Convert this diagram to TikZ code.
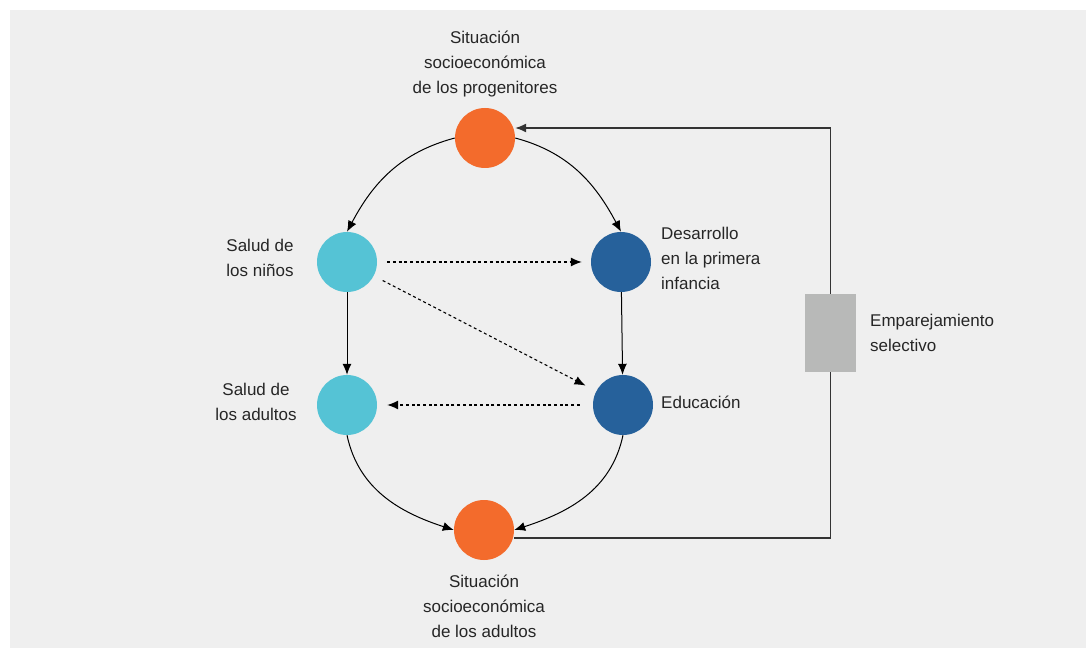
\documentclass[tikz,border=0pt]{standalone}
\usepackage{fontspec}
\setmainfont{Liberation Sans}
\usetikzlibrary{positioning,arrows.meta}
\definecolor{bggray}{HTML}{EFEFEF}
\definecolor{sesorange}{HTML}{F36B2C}
\definecolor{healthcyan}{HTML}{55C3D5}
\definecolor{edublue}{HTML}{26619B}
\definecolor{boxgray}{HTML}{B8B9B8}
\definecolor{linegray}{HTML}{333333}

\begin{document}
\begin{tikzpicture}[
  x=1pt,y=1pt,
  dot/.style={circle,minimum size=60pt,inner sep=0pt},
  lbl/.style={align=center,inner sep=0pt,font=\fontsize{17}{25}\selectfont,text=black!85},
  lbll/.style={lbl,align=left,anchor=west},
  arr/.style={-{Latex[length=11pt,width=9pt]},line width=1pt,draw=black},
  dotarr/.style={arr,line width=1.1pt,dash pattern=on 3pt off 2.7pt}
]
\useasboundingbox (0,0) rectangle (1086,648);
\fill[bggray] (10,0) rectangle (1086,638);

\node[dot,fill=sesorange] (top) at (485,510) {};
\node[dot,fill=healthcyan] (ninos) at (347,386) {};
\node[dot,fill=edublue] (desarrollo) at (621,386) {};
\node[dot,fill=healthcyan] (adultos) at (347,243) {};
\node[dot,fill=edublue] (educ) at (623,243) {};
\node[dot,fill=sesorange] (bottom) at (484,118) {};
\node[fill=boxgray,minimum width=51pt,minimum height=78pt,inner sep=0pt] (emp) at (830.5,315) {};

\node[lbl] (toplbl) at (485,584) {Situación\\socioeconómica\\de los progenitores};
\node[lbl] (ninoslbl) at (260,390.5) {Salud de\\los niños};
\node[lbll] (desarrollolbl) at (661,390) {Desarrollo\\en la primera\\infancia};
\node[lbl] (adultoslbl) at (256,246) {Salud de\\los adultos};
\node[lbll] (educlbl) at (661,246) {Educación};
\node[lbll] (emplbl) at (870,315.5) {Emparejamiento\\selectivo};
\node[lbl] (bottomlbl) at (484,42) {Situación\\socioeconómica\\de los adultos};

% curved links
\draw[arr] (top.west) to[out=195,in=62] (ninos.north);
\draw[arr] (top.east) to[out=-15,in=118] (desarrollo.north);
\draw[arr] (adultos.south) to[out=-78,in=162] (bottom.west);
\draw[arr] (educ.south) to[out=-102,in=18] (bottom.east);
% straight links
\draw[arr] (ninos) -- (adultos);
\draw[arr] (desarrollo) -- (educ);
% dotted links
\draw[dotarr,shorten <=10pt,shorten >=9pt] (ninos) -- (desarrollo);
\draw[dotarr,shorten <=10pt,shorten >=12pt] (ninos) -- (educ);
\draw[dotarr,shorten <=13pt,shorten >=10pt] (educ) -- (adultos);
% assortative mating loop
\draw[arr,draw=linegray,line width=1.3pt] (emp.north) |- ([yshift=10pt]top.east);
\draw[draw=linegray,line width=1.3pt] ([yshift=-8pt]bottom.east) -| (emp.south);
\end{tikzpicture}
\end{document}
